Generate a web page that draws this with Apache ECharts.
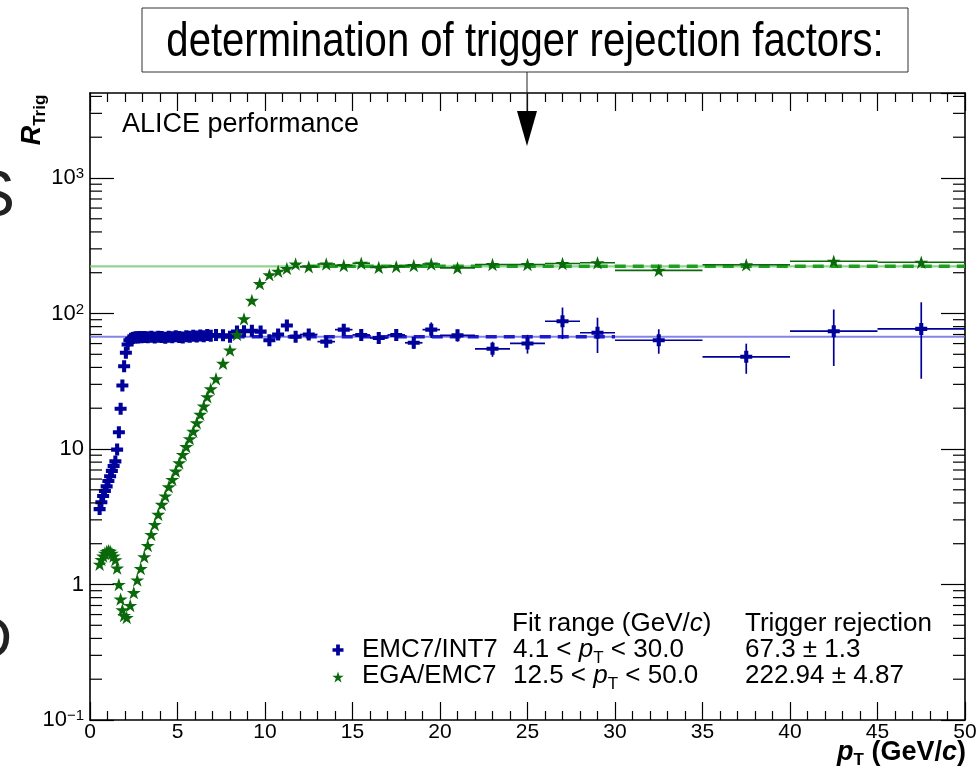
<!DOCTYPE html>
<html>
<head>
<meta charset="utf-8">
<script src="https://cdn.jsdelivr.net/npm/echarts@6/dist/echarts.min.js"></script>
<style>
  html, body { margin: 0; padding: 0; background: #fff; }
  #chart { width: 979px; height: 768px; }
</style>
</head>
<body>
<div id="chart"></div>
<script>
// ---- EMC7/INT7 trigger ratio (bin centre, half bin width, ratio, stat. error) ----
const emcPt = [0.55, 0.65, 0.75, 0.85, 0.95, 1.05, 1.15, 1.25, 1.35, 1.45, 1.55, 1.65, 1.75, 1.85, 1.95,
  2.05, 2.15, 2.25, 2.35, 2.45, 2.55, 2.65, 2.75, 2.85, 2.95,
  3.1, 3.3, 3.5, 3.7, 3.9, 4.1, 4.3, 4.5, 4.7, 4.9, 5.1, 5.3, 5.5, 5.7, 5.9, 6.1, 6.3, 6.5, 6.7, 6.9,
  7.2, 7.6, 8.0, 8.4, 8.8, 9.25, 9.75, 10.25, 10.75, 11.25, 11.75,
  12.5, 13.5, 14.5, 15.5, 16.5, 17.5, 18.5, 19.5, 21, 23, 25, 27, 29, 32.5, 37.5, 42.5, 47.5];
const emcHalfWidth = [0.05, 0.05, 0.05, 0.05, 0.05, 0.05, 0.05, 0.05, 0.05, 0.05, 0.05, 0.05, 0.05, 0.05, 0.05,
  0.05, 0.05, 0.05, 0.05, 0.05, 0.05, 0.05, 0.05, 0.05, 0.05,
  0.1, 0.1, 0.1, 0.1, 0.1, 0.1, 0.1, 0.1, 0.1, 0.1, 0.1, 0.1, 0.1, 0.1, 0.1, 0.1, 0.1, 0.1, 0.1, 0.1,
  0.2, 0.2, 0.2, 0.2, 0.2, 0.25, 0.25, 0.25, 0.25, 0.25, 0.25,
  0.5, 0.5, 0.5, 0.5, 0.5, 0.5, 0.5, 0.5, 1, 1, 1, 1, 1, 2.5, 2.5, 2.5, 2.5];
const emcRatio = [3.6, 4.05, 4.5, 4.9, 5.3, 5.8, 6.3, 6.9, 7.5, 8.1, 9.9, 13.3, 19.8, 29.4, 40.8,
  51.3, 59.0, 63.5, 65.2, 66.0, 66.4, 66.8, 66.5, 67.0, 66.7,
  67.1, 66.8, 67.3, 66.6, 67.4, 67.0, 66.2, 67.5, 66.9, 67.8, 67.2, 66.5, 68.0, 67.4, 68.4, 67.6, 68.8, 67.9, 69.3, 68.6,
  69.5, 69.0, 67.5, 73.5, 74.0, 74.5, 73.5, 63.5, 70.0, 81.5, 67.5,
  70.0, 62.0, 76.0, 69.5, 66.0, 69.5, 60.8, 76.0, 69.0, 54.9, 60.1, 87.7, 72.1, 63.5, 47.9, 74.0, 77.0];
const emcErr = [0.05, 0.05, 0.06, 0.06, 0.07, 0.08, 0.08, 0.09, 0.1, 0.11, 0.13, 0.18, 0.26, 0.38, 0.5,
  0.62, 0.7, 0.75, 0.78, 0.8, 0.8, 0.82, 0.82, 0.84, 0.84,
  0.6, 0.62, 0.64, 0.66, 0.7, 0.72, 0.74, 0.78, 0.82, 0.86, 0.9, 0.95, 1.0, 1.05, 1.1, 1.2, 1.3, 1.4, 1.5, 1.6,
  1.4, 1.6, 1.8, 2.0, 2.3, 2.6, 2.9, 3.1, 3.5, 4.0, 4.2,
  3.2, 3.6, 4.2, 4.6, 5.0, 5.6, 6.0, 10.0, 7.0, 7.0, 9.5, 23.0, 21.0, 13.0, 12.0, 33.0, 44.0];

// ---- EGA/EMC7 trigger ratio ----
const egaPt = [0.55, 0.65, 0.75, 0.85, 0.95, 1.05, 1.15, 1.25, 1.35, 1.45, 1.55, 1.65, 1.75, 1.85, 1.95,
  2.1, 2.3, 2.5, 2.7, 2.9, 3.1, 3.3, 3.5, 3.7, 3.9, 4.1, 4.3, 4.5, 4.7, 4.9, 5.1, 5.3, 5.5, 5.7, 5.9, 6.1, 6.3, 6.5, 6.7, 6.9,
  7.2, 7.6, 8.0, 8.4, 8.8, 9.25, 9.7,
  10.25, 10.75, 11.25, 11.75,
  12.5, 13.5, 14.5, 15.5, 16.5, 17.5, 18.5, 19.5,
  21, 23, 25, 27, 29,
  32.5, 37.5, 42.5, 47.5];
const egaHalfWidth = [0.05, 0.05, 0.05, 0.05, 0.05, 0.05, 0.05, 0.05, 0.05, 0.05, 0.05, 0.05, 0.05, 0.05, 0.05,
  0.1, 0.1, 0.1, 0.1, 0.1, 0.1, 0.1, 0.1, 0.1, 0.1, 0.1, 0.1, 0.1, 0.1, 0.1, 0.1, 0.1, 0.1, 0.1, 0.1, 0.1, 0.1, 0.1, 0.1, 0.1,
  0.2, 0.2, 0.2, 0.2, 0.2, 0.25, 0.25,
  0.25, 0.25, 0.25, 0.25,
  0.5, 0.5, 0.5, 0.5, 0.5, 0.5, 0.5, 0.5,
  1, 1, 1, 1, 1,
  2.5, 2.5, 2.5, 2.5];
const egaRatio = [1.41, 1.53, 1.62, 1.70, 1.75, 1.78, 1.76, 1.70, 1.62, 1.52, 1.32, 1.0, 0.78, 0.65, 0.59,
  0.57, 0.70, 0.87, 1.08, 1.31, 1.6, 1.94, 2.34, 2.77, 3.29, 3.9, 4.5, 5.26, 5.96, 6.86, 7.9, 9.1, 10.4, 11.9, 13.5, 15.6, 18.0, 20.7, 24.3, 27.8,
  33.0, 42.8, 53.6, 70.0, 91.4, 125, 166,
  193, 205, 215, 232,
  221, 232, 226, 235, 219, 222, 226, 232,
  217, 230, 230, 234, 237,
  208, 229, 243, 239];
const egaErr = [0.02, 0.02, 0.02, 0.02, 0.02, 0.02, 0.02, 0.02, 0.02, 0.02, 0.02, 0.02, 0.02, 0.02, 0.02,
  0.02, 0.02, 0.02, 0.03, 0.03, 0.04, 0.04, 0.05, 0.06, 0.07, 0.08, 0.09, 0.1, 0.12, 0.14, 0.16, 0.18, 0.21, 0.24, 0.27, 0.31, 0.36, 0.41, 0.49, 0.56,
  0.8, 1.1, 1.4, 1.8, 2.3, 3.0, 4.0,
  4.0, 4.2, 4.4, 4.6,
  3.6, 3.8, 3.9, 4.1, 4.2, 4.4, 4.6, 4.9,
  4.4, 4.8, 5.2, 5.6, 6.2,
  6.5, 8.0, 10.0, 11.0];

// ---- fit results ----
const fitNames = ['EMC7/INT7', 'EGA/EMC7'];
const fitRangeLow = [4.1, 12.5];
const fitRangeHigh = [30.0, 50.0];
const fitValue = [67.3, 222.94];
const fitError = ['1.3', '4.87'];

// ---- axes ----
const xMin = 0, xMax = 50, xStep = 5;
const yMin = 0.1, yMax = 4240;
const yDecades = [0.1, 1, 10, 100, 1000];

const FONT = "'Liberation Sans', Arial, Helvetica, sans-serif";
const BLUE = '#00009a';
const GREEN = '#0a690a';
const CROSS = 'path://M3.3,0H6.7V3.3H10V6.7H6.7V10H3.3V6.7H0V3.3H3.3Z';
const STAR = 'path://M50,0L61.2,34.5L97.6,34.5L68.2,55.9L79.4,90.5L50,69.1L20.6,90.5L31.8,55.9L2.4,34.5L38.8,34.5Z';

// minor ticks of the logarithmic axis: 2..9 times each decade
const yMinorTicks = [];
yDecades.forEach(d => { for (let k = 2; k <= 9; k++) { const v = d * k; if (v < yMax) yMinorTicks.push(v); } });

function pointsOf(pt, ratio, hw, err) {
  return pt.map((x, i) => [x, ratio[i], hw[i], err[i]]);
}

function errorBars(color) {
  return function (params, api) {
    const x = api.value(0), y = api.value(1), hw = api.value(2), e = api.value(3);
    const l = api.coord([x - hw, y]), r = api.coord([x + hw, y]);
    const t = api.coord([x, y + e]), b = api.coord([x, Math.max(y - e, 1e-4)]);
    const style = { stroke: color, lineWidth: 1.7 };
    return {
      type: 'group',
      children: [
        { type: 'line', shape: { x1: l[0], y1: l[1], x2: r[0], y2: r[1] }, style },
        { type: 'line', shape: { x1: t[0], y1: t[1], x2: b[0], y2: b[1] }, style }
      ]
    };
  };
}

function logMinorTicks(params, api) {
  const v = api.value(1);
  const a = api.coord([xMin, v]), b = api.coord([xMax, v]);
  const style = { stroke: '#000', lineWidth: 1.2 };
  return {
    type: 'group',
    children: [
      { type: 'line', shape: { x1: a[0], y1: a[1], x2: a[0] + 12, y2: a[1] }, style },
      { type: 'line', shape: { x1: b[0], y1: b[1], x2: b[0] - 12, y2: b[1] }, style }
    ]
  };
}

// legend glyphs as polygons around a centre point
function crossPoints(cx, cy, s) {
  const a = s / 2, t = s * 0.17;
  return [[cx - t, cy - a], [cx + t, cy - a], [cx + t, cy - t], [cx + a, cy - t], [cx + a, cy + t], [cx + t, cy + t],
    [cx + t, cy + a], [cx - t, cy + a], [cx - t, cy + t], [cx - a, cy + t], [cx - a, cy - t], [cx - t, cy - t]];
}
function starPoints(cx, cy, s) {
  const pts = [];
  for (let k = 0; k < 10; k++) {
    const r = (k % 2 === 0 ? 1 : 0.382) * s / 2;
    const ang = -Math.PI / 2 + k * Math.PI / 5;
    pts.push([cx + r * Math.cos(ang), cy + 0.05 * s + r * Math.sin(ang)]);
  }
  return pts;
}

const axisLine = { show: true, onZero: false, lineStyle: { color: '#000', width: 1.6 } };

function xAxisDef(pos, labels) {
  return {
    type: 'value', position: pos, min: xMin, max: xMax, interval: xStep,
    axisLine,
    axisTick: { show: true, inside: true, length: 18, lineStyle: { color: '#000', width: 1.2 } },
    minorTick: { show: true, splitNumber: 5, length: 9, lineStyle: { color: '#000', width: 1.2 } },
    splitLine: { show: false }, minorSplitLine: { show: false },
    axisLabel: { show: labels, color: '#000', fontSize: 21, fontFamily: FONT, margin: 2, showMinLabel: true, showMaxLabel: true }
  };
}

function yAxisDef(pos, labels) {
  return {
    type: 'log', logBase: 10, position: pos, min: yMin, max: yMax,
    axisLine,
    axisTick: { show: true, inside: true, length: 24, lineStyle: { color: '#000', width: 1.2 } },
    splitLine: { show: false },
    axisLabel: {
      show: labels, color: '#000', fontFamily: FONT, margin: 6,
      showMinLabel: true, showMaxLabel: false,
      formatter: v => {
        const e = Math.round(Math.log10(v));
        if (e === 0) return '{b|1}';
        if (e === 1) return '{b|10}';
        return '{b|10}{s|' + (e < 0 ? '\u2212' + (-e) : e) + '}';
      },
      rich: {
        b: { fontSize: 22, fontFamily: FONT, color: '#000' },
        s: { fontSize: 15, fontFamily: FONT, color: '#000', verticalAlign: 'top', padding: [0, 0, 8, 0] }
      }
    }
  };
}

const chart = echarts.init(document.getElementById('chart'), null, { renderer: 'canvas' });

const txt = (text, x, y, size, extra) => Object.assign({
  type: 'text', x, y, z: 100,
  style: Object.assign({ text, fontSize: size, fontFamily: FONT, fill: '#000', align: 'left', verticalAlign: 'middle' }, (extra && extra.style) || {})
}, (extra && extra.el) || {});

const legendRich = {
  i: { fontSize: 26, fontFamily: FONT, fontStyle: 'italic', fill: '#000' },
  n: { fontSize: 26, fontFamily: FONT, fill: '#000' },
  sub: { fontSize: 17, fontFamily: FONT, fill: '#000', verticalAlign: 'bottom', padding: [16, 0, 0, 0] }
};

const legendRow = (i, y) => [
  txt(fitNames[i], 362, y, 26),
  {
    type: 'text', x: 513, y, z: 100,
    style: {
      text: '{n|' + fitRangeLow[i].toFixed(1) + ' < }{i|p}{sub|T}{n| < ' + fitRangeHigh[i].toFixed(1) + '}',
      rich: legendRich, verticalAlign: 'middle', align: 'left'
    }
  },
  txt(fitValue[i] + ' \u00b1 ' + fitError[i], 745, y, 26)
];

const option = {
  animation: false,
  backgroundColor: '#fff',
  grid: { left: 90, right: 14, top: 93, bottom: 48, containLabel: false, outerBoundsMode: 'none' },
  xAxis: [xAxisDef('bottom', true), xAxisDef('top', false)],
  yAxis: [yAxisDef('left', true), yAxisDef('right', false)],
  series: [
    { // fitted constants over the full range
      type: 'line', data: [[xMin, fitValue[0]], [xMax, fitValue[0]]], symbol: 'none', silent: true, z: 1,
      lineStyle: { color: 'rgba(90,90,225,0.75)', width: 2 }
    },
    {
      type: 'line', data: [[xMin, fitValue[1]], [xMax, fitValue[1]]], symbol: 'none', silent: true, z: 1,
      lineStyle: { color: 'rgba(120,200,120,0.8)', width: 2.2 }
    },
    { // fit ranges
      type: 'line', data: [[fitRangeLow[0], fitValue[0]], [fitRangeHigh[0], fitValue[0]]], symbol: 'none', silent: true, z: 2,
      lineStyle: { color: '#1a1ad0', width: 3.5, type: [11, 7] }
    },
    {
      type: 'line', data: [[fitRangeLow[1], fitValue[1]], [fitRangeHigh[1], fitValue[1]]], symbol: 'none', silent: true, z: 2,
      lineStyle: { color: '#1f9f1f', width: 3.5, type: [11, 7] }
    },
    {
      type: 'custom', renderItem: errorBars(BLUE), data: pointsOf(emcPt, emcRatio, emcHalfWidth, emcErr),
      clip: false, silent: true, z: 3
    },
    {
      type: 'custom', renderItem: errorBars(GREEN), data: pointsOf(egaPt, egaRatio, egaHalfWidth, egaErr),
      clip: false, silent: true, z: 3
    },
    {
      name: fitNames[0], type: 'scatter', data: emcPt.map((x, i) => [x, emcRatio[i]]),
      symbol: CROSS, symbolSize: 12, itemStyle: { color: BLUE, opacity: 1 }, z: 4
    },
    {
      name: fitNames[1], type: 'scatter', data: egaPt.map((x, i) => [x, egaRatio[i]]),
      symbol: STAR, symbolSize: 14, symbolKeepAspect: true, itemStyle: { color: GREEN, opacity: 1 }, z: 5
    },
    {
      type: 'custom', renderItem: logMinorTicks, data: yMinorTicks.map(v => [xMin, v]),
      clip: false, silent: true, z: 6
    }
  ],
  graphic: [
    // title box with arrow
    { type: 'rect', shape: { x: 142, y: 8, width: 766, height: 64 }, style: { fill: '#fff', stroke: '#333', lineWidth: 1 }, z: 90 },
    txt('determination of trigger rejection factors:', 525, 43, 48, { style: { align: 'center' }, el: { scaleX: 0.835 } }),
    { type: 'line', shape: { x1: 527, y1: 72, x2: 527, y2: 112 }, style: { stroke: '#222', lineWidth: 1 }, z: 90 },
    { type: 'polygon', shape: { points: [[517, 111], [537, 111], [527, 146]] }, style: { fill: '#000' }, z: 90 },
    // cut-off letters at the left edge
    txt('S', 15, 198, 64, { style: { align: 'right', fill: '#222' } }),
    txt('D', 12, 641, 60, { style: { align: 'right', fill: '#222' } }),
    // label
    txt('ALICE performance', 122, 125, 27),
    // legend table
    {
      type: 'text', x: 512, y: 624, z: 100,
      style: { text: '{n|Fit range (GeV/}{i|c}{n|)}', rich: legendRich, verticalAlign: 'middle', align: 'left' }
    },
    txt('Trigger rejection', 745, 624, 26),
    ...legendRow(0, 650),
    ...legendRow(1, 676),
    { type: 'polygon', shape: { points: crossPoints(338, 650, 11) }, style: { fill: BLUE }, z: 100 },
    { type: 'polygon', shape: { points: starPoints(338, 677, 12) }, style: { fill: GREEN }, z: 100 },
    // axis titles
    {
      type: 'text', x: 33, y: 120, rotation: Math.PI / 2, z: 100,
      style: {
        text: '{r|R}{s|Trig}', align: 'center', verticalAlign: 'middle',
        rich: {
          r: { fontSize: 27, fontFamily: FONT, fontWeight: 'bold', fontStyle: 'italic', fill: '#000' },
          s: { fontSize: 17, fontFamily: FONT, fontWeight: 'bold', fill: '#000', verticalAlign: 'bottom', padding: [14, 0, 0, 0] }
        }
      }
    },
    {
      type: 'text', x: 966, y: 753, z: 100,
      style: {
        text: '{p|p}{s|T}{n| (GeV/}{p|c}{n|)}', align: 'right', verticalAlign: 'middle',
        rich: {
          p: { fontSize: 27, fontFamily: FONT, fontWeight: 'bold', fontStyle: 'italic', fill: '#000' },
          n: { fontSize: 27, fontFamily: FONT, fontWeight: 'bold', fill: '#000' },
          s: { fontSize: 17, fontFamily: FONT, fontWeight: 'bold', fill: '#000', verticalAlign: 'bottom', padding: [14, 0, 0, 0] }
        }
      }
    }
  ]
};

chart.setOption(option);
</script>
</body>
</html>
